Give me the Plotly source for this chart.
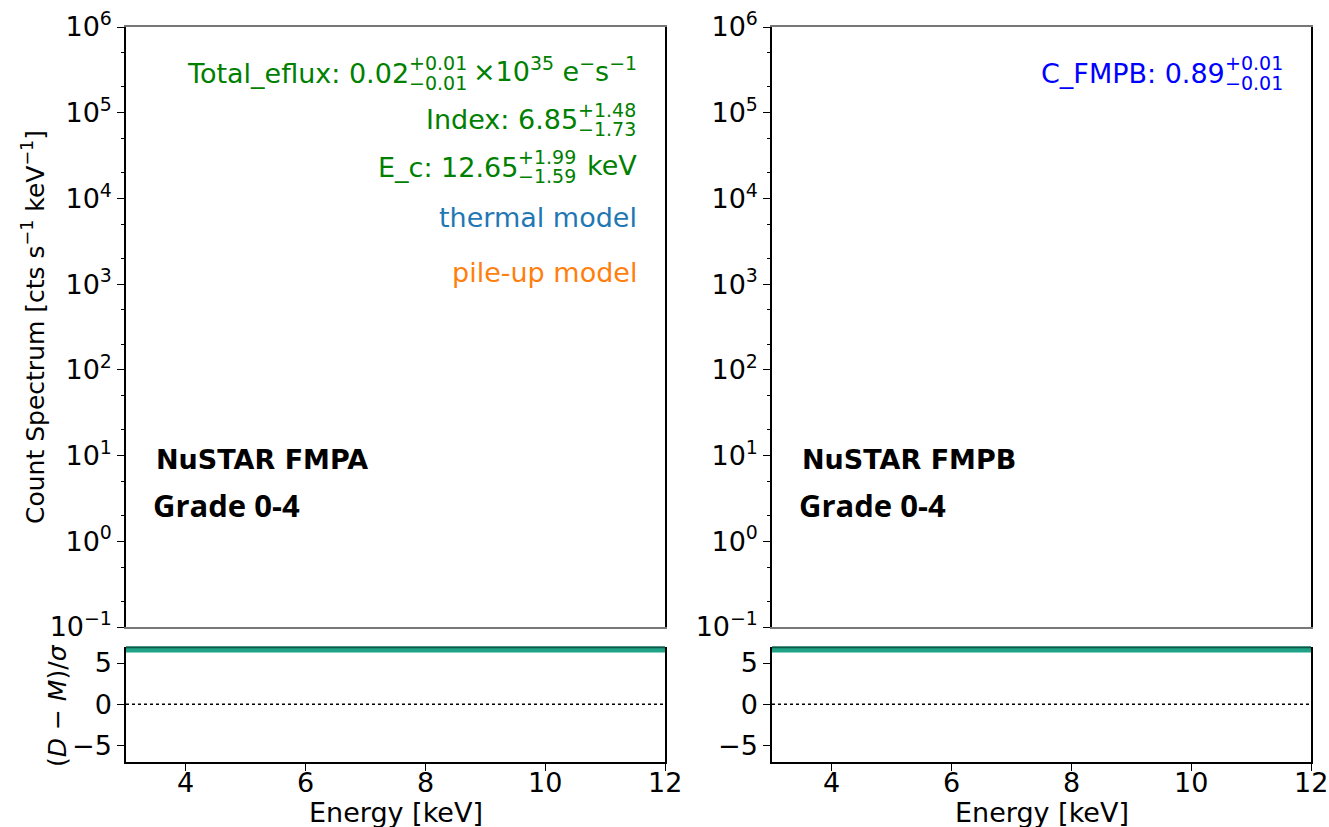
import plotly.graph_objects as go

W, H = 1329, 827

# ---------------- data ----------------
energy_range = [3.0, 12.0]
resid_range = [-7.0, 7.0]
logy_range = [-1, 6]

y_tick_vals = [0.1, 1, 10, 100, 1000, 10000, 100000, 1000000]
y_tick_text = ["10<sup>−1</sup>", "10<sup>0</sup>", "10<sup>1</sup>", "10<sup>2</sup>",
               "10<sup>3</sup>", "10<sup>4</sup>", "10<sup>5</sup>", "10<sup>6</sup>"]
x_tick_vals = [4, 6, 8, 10, 12]
x_tick_text = ["4", "6", "8", "10", "12"]
r_tick_vals = [-5, 0, 5]
r_tick_text = ["−5", "0", "5"]

# residual band (clipped at top of axis) for FMPA and FMPB
resid_energy_A = [3.0, 12.0]
resid_low_A = [6.26, 6.26]
resid_high_A = [7.5, 7.5]
resid_edge_A = [6.93, 6.93]
resid_energy_B = [3.0, 12.0]
resid_low_B = [6.26, 6.26]
resid_high_B = [7.5, 7.5]
resid_edge_B = [6.93, 6.93]
zero_energy = [3.0, 12.0]
zero_level = [0.0, 0.0]

TEAL = "#1fa386"
DARK_TEAL = "#0e5645"
FONT = "DejaVu Sans"
FS = 27      # horizontal text
FSV = 25     # vertical text


def px(x):
    return x / W


def py(y):
    return 1 - y / H


# panel geometry (pixels)
L1, R1 = 126, 665
L2, R2 = 772, 1311
T_TOP, B_TOP = 27, 627
T_RES, B_RES = 646.5, 762
XTICK_LABEL_Y = 782

fig = go.Figure()

# empty spectra panels
fig.add_trace(go.Scatter(x=[], y=[], xaxis="x", yaxis="y", showlegend=False))
fig.add_trace(go.Scatter(x=[], y=[], xaxis="x3", yaxis="y3", showlegend=False))


def add_resid(xa, ya, en, lo, hi, edge):
    fig.add_trace(go.Scatter(x=en, y=lo, xaxis=xa, yaxis=ya, mode="lines",
                             line=dict(width=0, color=TEAL), showlegend=False,
                             hoverinfo="skip"))
    fig.add_trace(go.Scatter(x=en, y=hi, xaxis=xa, yaxis=ya, mode="lines",
                             line=dict(width=0, color=TEAL), fill="tonexty",
                             fillcolor=TEAL, showlegend=False, hoverinfo="skip"))
    fig.add_trace(go.Scatter(x=en, y=edge, xaxis=xa, yaxis=ya, mode="lines",
                             line=dict(width=2.5, color=DARK_TEAL), showlegend=False,
                             hoverinfo="skip"))
    fig.add_trace(go.Scatter(x=zero_energy, y=zero_level, xaxis=xa, yaxis=ya, mode="lines",
                             line=dict(width=1.6, color="black", dash="dot"),
                             showlegend=False, hoverinfo="skip"))


add_resid("x2", "y2", resid_energy_A, resid_low_A, resid_high_A, resid_edge_A)
add_resid("x4", "y4", resid_energy_B, resid_low_B, resid_high_B, resid_edge_B)

tickfont = dict(family=FONT, size=FS, color="black")


def top_x(anchor, L, R):
    return dict(domain=[px(L), px(R)], anchor=anchor, range=energy_range, automargin=False,
                showticklabels=False, ticks="", showgrid=False, zeroline=False,
                showline=True, linecolor="#777777", linewidth=1.5, mirror=True)


def top_y(anchor):
    return dict(domain=[py(B_TOP), py(T_TOP)], anchor=anchor, type="log", range=logy_range,
                automargin=False,
                tickvals=y_tick_vals, ticktext=y_tick_text, tickfont=tickfont,
                ticks="outside", ticklen=7, tickwidth=1.3, tickcolor="black",
                minor=dict(ticks="outside", ticklen=3.5, tickwidth=1, tickcolor="black",
                           showgrid=False),
                showgrid=False, zeroline=False, showline=True, linecolor="black",
                linewidth=1.5, mirror=True)


def res_x(anchor, L, R):
    return dict(domain=[px(L), px(R)], anchor=anchor, range=energy_range, automargin=False,
                tickvals=x_tick_vals, showticklabels=False,
                ticks="outside", ticklen=7, tickwidth=1.3, tickcolor="black",
                showgrid=False, zeroline=False, showline=True, linecolor="black",
                linewidth=1.5, mirror=False)


def res_y(anchor):
    return dict(domain=[py(B_RES), py(T_RES)], anchor=anchor, range=resid_range,
                automargin=False,
                tickvals=r_tick_vals, ticktext=r_tick_text, tickfont=tickfont,
                ticks="outside", ticklen=7, tickwidth=1.3, tickcolor="black",
                showgrid=False, zeroline=False, showline=True, linecolor="black",
                linewidth=1.5, mirror=True)


annotations = []


def ann(text, x, y, xanchor="left", size=FS, color="black", angle=0, family=FONT,
        yanchor="middle", xref="paper"):
    annotations.append(dict(text=text, x=(px(x) if xref == "paper" else x), y=py(y),
                            xref=xref, yref="paper",
                            xanchor=xanchor, yanchor=yanchor, showarrow=False,
                            textangle=angle, borderpad=0,
                            font=dict(family=family, size=size, color=color)))


# x tick labels of residual panels (placed on the data axes)
for xa in ["x2", "x4"]:
    for v, t in zip(x_tick_vals, x_tick_text):
        ann(t, v, XTICK_LABEL_Y, "center", xref=xa)

GREEN = "#008000"
SS = 19
# Left panel labels
ann("Total_eflux: 0.02", 410, 73, "right", color=GREEN)
ann("+0.01", 408, 63, "left", size=SS, color=GREEN)
ann("−0.01", 408, 83, "left", size=SS, color=GREEN)
ann("×10<sup>35</sup> e<sup>−</sup>s<sup>−1</sup>", 638, 70, "right", color=GREEN)
ann("Index: 6.85", 579, 120, "right", color=GREEN)
ann("+1.48", 577, 110, "left", size=SS, color=GREEN)
ann("−1.73", 577, 129, "left", size=SS, color=GREEN)
ann("E_c: 12.65", 519, 167, "right", color=GREEN)
ann("+1.99", 517, 157, "left", size=SS, color=GREEN)
ann("−1.59", 517, 176, "left", size=SS, color=GREEN)
ann("keV", 638, 166, "right", color=GREEN)
ann("thermal model", 638, 217, "right", color="#1f77b4")
ann("pile-up model", 638, 272, "right", color="#ff7f0e")

# Right panel label
ann("C_FMPB: 0.89", 1226, 73, "right", color="#0000ff")
ann("+0.01", 1224, 63, "left", size=SS, color="#0000ff")
ann("−0.01", 1224, 83, "left", size=SS, color="#0000ff")

# instrument labels
for L, name in [(L1, "NuSTAR FMPA"), (L2, "NuSTAR FMPB")]:
    ann("<b>%s</b>" % name, L + 29, 459, "left", size=27)
    ann("<b>Grade 0-4</b>", L + 26, 505, "left", size=31, family="Open Sans")

# axis titles
ann("Count Spectrum [cts s<sup>−1</sup> keV<sup>−1</sup>]", 33, 327, "center", size=FSV, angle=-90)
ann("(<i>D</i> − <i>M</i>)/<i>σ</i>", 57, 706, "center", size=FSV, angle=-90)
ann("Energy [keV]", (L1 + R1) / 2, 812, "center")
ann("Energy [keV]", (L2 + R2) / 2, 812, "center")

fig.update_layout(
    width=W, height=H,
    margin=dict(l=0, r=0, t=0, b=0, autoexpand=False),
    paper_bgcolor="white", plot_bgcolor="white",
    showlegend=False,
    font=dict(family=FONT, size=FS, color="black"),
    xaxis=top_x("y", L1, R1), yaxis=top_y("x"),
    xaxis2=res_x("y2", L1, R1), yaxis2=res_y("x2"),
    xaxis3=top_x("y3", L2, R2), yaxis3=top_y("x3"),
    xaxis4=res_x("y4", L2, R2), yaxis4=res_y("x4"),
    annotations=annotations,
)

fig.write_html("out.html")
